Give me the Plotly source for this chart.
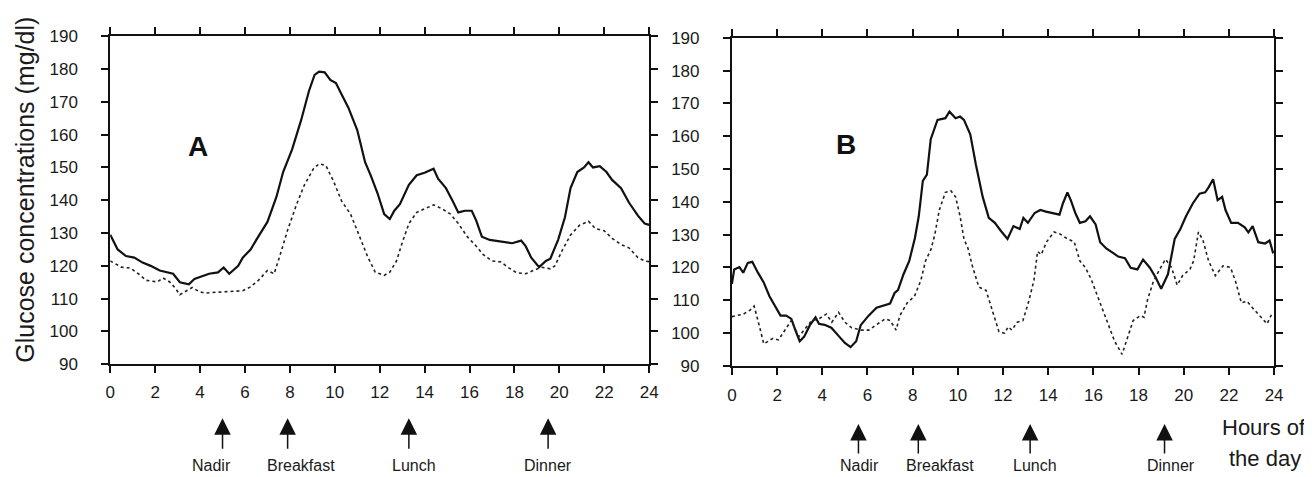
import plotly.graph_objects as go

# ---------------- data ----------------
hours_a_solid = [0, 0.33, 0.7, 1.07, 1.44, 1.8, 2.2, 2.55, 2.8, 3.1, 3.5, 3.75, 4.0, 4.4, 4.8, 5.05, 5.3, 5.7, 5.9,
                 6.25, 6.6, 7.0, 7.4, 7.7, 8.1, 8.5, 8.85, 9.1, 9.3, 9.55, 9.8, 10.05, 10.3, 10.6, 11.0, 11.35,
                 11.6, 11.9, 12.2, 12.45, 12.65, 12.9, 13.3, 13.65, 14.0, 14.4, 14.6, 14.95, 15.25, 15.5, 15.8,
                 16.1, 16.3, 16.55, 16.9, 17.4, 17.9, 18.3, 18.5, 18.75, 19.1, 19.4, 19.6, 19.95, 20.25, 20.5,
                 20.8, 21.1, 21.3, 21.5, 21.8, 22.1, 22.35, 22.75, 23.1, 23.5, 23.8, 24]
glucose_a_solid = [129.5, 125, 123, 122.5, 121, 120, 118.6, 118, 117.6, 115, 114.4, 116, 116.6, 117.6, 118, 119.5,
                   117.6, 120, 122.5, 125, 129, 133.4, 141, 148.6, 155.5, 164.4, 173.3, 178.2, 179.2, 179, 176.7,
                   175.7, 172.3, 168.3, 161.4, 151.6, 147.6, 142.2, 135.8, 134.3, 136.8, 138.8, 144.7, 147.6,
                   148.4, 149.6, 146.6, 143.7, 139.8, 136.3, 136.8, 136.8, 133.8, 128.9, 127.9, 127.4, 126.9,
                   127.7, 126, 122.5, 119.6, 121.5, 122.2, 128, 134.8, 143.7, 148.6, 150, 151.6, 150, 150.4,
                   148.6, 146.2, 143.7, 139.3, 135.3, 132.9, 132.5]

hours_a_dot = [0, 0.5, 0.9, 1.25, 1.6, 2.1, 2.35, 2.65, 2.9, 3.1, 3.4, 3.65, 3.95, 4.2, 4.8, 5.3, 5.9, 6.25, 6.6,
               7.0, 7.3, 7.55, 7.9, 8.3, 8.65, 9.05, 9.3, 9.6, 9.95, 10.3, 10.7, 11.05, 11.45, 11.8, 12.2,
               12.45, 12.75, 13.0, 13.3, 13.65, 14.0, 14.4, 14.8, 15.15, 15.5, 15.9, 16.3, 16.6, 17.0, 17.4,
               17.7, 18.1, 18.5, 18.85, 19.2, 19.6, 19.8, 20.15, 20.5, 20.9, 21.3, 21.6, 22.0, 22.35, 22.75,
               23.1, 23.5, 23.8, 24]
glucose_a_dot = [121.5, 119.6, 119.3, 117.6, 115.6, 115.1, 116.3, 115.1, 113.2, 111.2, 112.4, 113.4, 112.2, 111.7,
                 112, 112.2, 112.4, 113.6, 115.6, 118.6, 117.6, 123, 130.9, 138.8, 144.7, 149.6, 151.1, 150.6,
                 145.7, 139.8, 135.8, 129.9, 123, 118.1, 117.1, 118.1, 121.5, 127, 132.9, 136.3, 137.3, 138.6,
                 137.3, 135.8, 132.9, 128.9, 126, 123.5, 121.5, 121.2, 119.6, 117.9, 117.6, 118.6, 119.6, 119.1,
                 120, 125, 129.4, 132.4, 133.6, 131.4, 130.7, 128.4, 126.5, 125.5, 122.5, 121.5, 121.3]

hours_b_solid = [0, 0.1, 0.33, 0.5, 0.7, 0.9, 1.15, 1.4, 1.66, 1.9, 2.15, 2.4, 2.63, 2.83, 3.0, 3.2, 3.45, 3.7,
                 3.85, 4.1, 4.4, 4.75, 5.0, 5.25, 5.5, 5.7, 6.05, 6.4, 6.7, 7.0, 7.2, 7.35, 7.6, 7.85, 8.1, 8.27,
                 8.45, 8.63, 8.8, 9.1, 9.45, 9.63, 9.9, 10.1, 10.27, 10.55, 10.8, 11.1, 11.37, 11.64, 11.9, 12.2,
                 12.46, 12.74, 12.9, 13.1, 13.4, 13.65, 13.9, 14.2, 14.5, 14.65, 14.85, 15.0, 15.2, 15.4, 15.65,
                 15.85, 16.1, 16.3, 16.57, 16.9, 17.1, 17.4, 17.65, 17.95, 18.2, 18.5, 18.75, 19.0, 19.3, 19.6,
                 19.85, 20.1, 20.4, 20.7, 20.95, 21.1, 21.3, 21.5, 21.7, 21.85, 22.1, 22.4, 22.7, 22.86, 23.05,
                 23.3, 23.6, 23.8, 23.96]
glucose_b_solid = [115, 119.4, 120.1, 118.4, 121.4, 121.7, 118.4, 115.5, 111.2, 108.2, 105.3, 105.3, 104.3, 100.4,
                   97.5, 98.9, 102.4, 104.8, 102.8, 102.5, 101.6, 98.9, 97, 95.7, 97.5, 102.4, 105.3, 107.7, 108.4,
                   109, 112.2, 113.1, 118, 122, 129, 135.6, 146.4, 148.3, 159.1, 165, 165.5, 167.5, 165.5, 166,
                   165, 160.6, 151.3, 141.5, 135.1, 133.6, 131.2, 128.7, 132.6, 131.7, 135.1, 133.6, 136.6, 137.5,
                   137, 136.6, 136.1, 139.5, 142.9, 140.5, 136.6, 133.6, 134.1, 135.6, 133.1, 127.7, 125.8, 124.3,
                   123.3, 122.8, 119.9, 119.4, 122.4, 119.9, 117, 113.5, 117.9, 128.7, 131.7, 135.6, 139.5, 142.5,
                   142.9, 144.4, 146.9, 140.5, 141.5, 137.5, 133.6, 133.6, 132.2, 130.7, 132.6, 127.7, 127.3,
                   128.2, 124.3]

hours_b_dot = [0, 0.52, 0.8, 0.98, 1.17, 1.41, 1.82, 2.06, 2.3, 2.63, 2.96, 3.2, 3.53, 3.85, 4.18, 4.42, 4.72,
               5.0, 5.3, 5.72, 6.05, 6.37, 6.78, 7.0, 7.27, 7.43, 7.76, 8.08, 8.36, 8.57, 8.81, 8.98, 9.18, 9.45,
               9.69, 9.9, 10.1, 10.27, 10.45, 10.64, 10.93, 11.25, 11.58, 11.82, 12.07, 12.23, 12.39, 12.63,
               12.88, 13.12, 13.37, 13.53, 13.69, 13.93, 14.26, 14.5, 14.83, 15.15, 15.4, 15.64, 15.89, 16.13,
               16.46, 16.7, 16.94, 17.27, 17.51, 17.76, 18.08, 18.24, 18.4, 18.65, 18.9, 19.19, 19.46, 19.71,
               19.95, 20.28, 20.44, 20.65, 20.85, 21.1, 21.4, 21.74, 22.07, 22.3, 22.55, 22.8, 23.04, 23.28,
               23.69, 23.93]
glucose_b_dot = [105, 105.8, 107, 108.2, 103.3, 96.7, 98.4, 97.9, 100.4, 103.8, 98.9, 100.9, 103.8, 104.3, 105.8,
                 103.3, 106.3, 103.3, 101.6, 100.9, 100.9, 102.4, 104.3, 103.8, 100.9, 105.3, 109.2, 111.2, 116,
                 122, 125.5, 130, 137.5, 142.9, 143.4, 141.5, 135.6, 128.7, 125.8, 120.5, 114, 113, 105.3,
                 100.4, 99.9, 101.9, 100.9, 103.3, 103.8, 109.2, 116.1, 124.9, 123.9, 127.8, 130.8, 130.3, 128.8,
                 127.8, 122, 120, 116.6, 112.2, 106.3, 101.4, 97.5, 93.5, 98.4, 103.8, 105.3, 104.8, 110.2,
                 115.6, 119, 122.5, 120, 114.6, 117.5, 119.5, 122, 130.8, 128.3, 122, 117.5, 120.5, 120, 115.6,
                 109.2, 109.7, 107.7, 105.8, 102.8, 106.3]

x_ticks = [0, 2, 4, 6, 8, 10, 12, 14, 16, 18, 20, 22, 24]
y_ticks = [90, 100, 110, 120, 130, 140, 150, 160, 170, 180, 190]

events = ["Nadir", "Breakfast", "Lunch", "Dinner"]
event_hours_a = [5.0, 7.9, 13.3, 19.5]
event_hours_b = [5.6, 8.25, 13.2, 19.15]

y_title = "Glucose concentrations (mg/dl)"
x_title_lines = ["Hours of", "the day"]
panel_letters = ["A", "B"]

# ---------------- figure ----------------
W, H = 1312, 477
FONT = "Liberation Sans, Arial, Helvetica, sans-serif"

fig = go.Figure()
solid_style = dict(color="#111111", width=2.2)
dot_style = dict(color="#222222", width=1.6, dash="dot")

fig.add_trace(go.Scatter(x=hours_a_solid, y=glucose_a_solid, mode="lines", line=solid_style,
                         xaxis="x", yaxis="y", showlegend=False))
fig.add_trace(go.Scatter(x=hours_a_dot, y=glucose_a_dot, mode="lines", line=dot_style,
                         xaxis="x", yaxis="y", showlegend=False))
fig.add_trace(go.Scatter(x=hours_b_solid, y=glucose_b_solid, mode="lines", line=solid_style,
                         xaxis="x2", yaxis="y2", showlegend=False))
fig.add_trace(go.Scatter(x=hours_b_dot, y=glucose_b_dot, mode="lines", line=dot_style,
                         xaxis="x2", yaxis="y2", showlegend=False))

axis_common = dict(showline=True, linecolor="#111111", linewidth=2, mirror="ticks",
                   ticks="outside", ticklen=7, tickwidth=1.6, tickcolor="#111111",
                   showgrid=False, zeroline=False, fixedrange=True,
                   tickfont=dict(family=FONT, size=17, color="#1a1a1a"))

def px_x(p):
    return p / W

def px_y(p):
    return 1 - p / H

fig.update_layout(
    width=W, height=H,
    margin=dict(l=0, r=0, t=0, b=0),
    paper_bgcolor="white", plot_bgcolor="white",
    xaxis=dict(domain=[px_x(98.3), px_x(643)], range=[0, 24], tickvals=x_ticks,
               anchor="y", ticklabelstandoff=4, **axis_common),
    yaxis=dict(domain=[px_y(361.7), px_y(20)], range=[90, 190], tickvals=y_ticks,
               anchor="x", ticklabelstandoff=20, **axis_common),
    xaxis2=dict(domain=[px_x(726.7), px_x(1274.7)], range=[0, 24], tickvals=x_ticks,
                anchor="y2", ticklabelstandoff=6, **axis_common),
    yaxis2=dict(domain=[px_y(363.3), px_y(21.7)], range=[90, 190], tickvals=y_ticks,
                anchor="x2", ticklabelstandoff=20, **axis_common),
)

annotations = []
# panel letters
annotations.append(dict(x=3.9, y=156.5, xref="x", yref="y", text="<b>" + panel_letters[0] + "</b>",
                        showarrow=False, font=dict(family=FONT, size=28, color="#111111")))
annotations.append(dict(x=5.05, y=157.5, xref="x2", yref="y2", text="<b>" + panel_letters[1] + "</b>",
                        showarrow=False, font=dict(family=FONT, size=28, color="#111111")))

# y-axis title
annotations.append(dict(x=px_x(12), y=px_y(180), xref="paper", yref="paper", text=y_title,
                        textangle=-90, showarrow=False, xanchor="center", yanchor="middle",
                        font=dict(family=FONT, size=25, color="#1a1a1a")))

# x title
annotations.append(dict(x=px_x(1264), y=px_y(428), xref="paper", yref="paper", text=x_title_lines[0],
                        showarrow=False, xanchor="center", yanchor="middle",
                        font=dict(family=FONT, size=22, color="#1a1a1a")))
annotations.append(dict(x=px_x(1266), y=px_y(460), xref="paper", yref="paper", text=x_title_lines[1],
                        showarrow=False, xanchor="center", yanchor="middle",
                        font=dict(family=FONT, size=22, color="#1a1a1a")))

# event arrows and labels
label_shift_a = [-11, 13, 5, 0]
label_shift_b = [1, 22, 5, 6]
for name, hx, sh in zip(events, event_hours_a, label_shift_a):
    annotations.append(dict(x=hx, y=px_y(418), xref="x", yref="paper", text="", showarrow=True,
                            ax=0, ay=32, arrowhead=2, arrowsize=2.2, arrowwidth=1.5, arrowcolor="#111111"))
    annotations.append(dict(x=hx, y=px_y(467), xref="x", yref="paper", text=name, showarrow=False,
                            xshift=sh, xanchor="center", yanchor="middle",
                            font=dict(family=FONT, size=16, color="#1a1a1a")))
for name, hx, sh in zip(events, event_hours_b, label_shift_b):
    annotations.append(dict(x=hx, y=px_y(424), xref="x2", yref="paper", text="", showarrow=True,
                            ax=0, ay=31, arrowhead=2, arrowsize=2.2, arrowwidth=1.5, arrowcolor="#111111"))
    annotations.append(dict(x=hx, y=px_y(467), xref="x2", yref="paper", text=name, showarrow=False,
                            xshift=sh, xanchor="center", yanchor="middle",
                            font=dict(family=FONT, size=16, color="#1a1a1a")))

fig.update_layout(annotations=annotations)

fig.write_html("out.html")
